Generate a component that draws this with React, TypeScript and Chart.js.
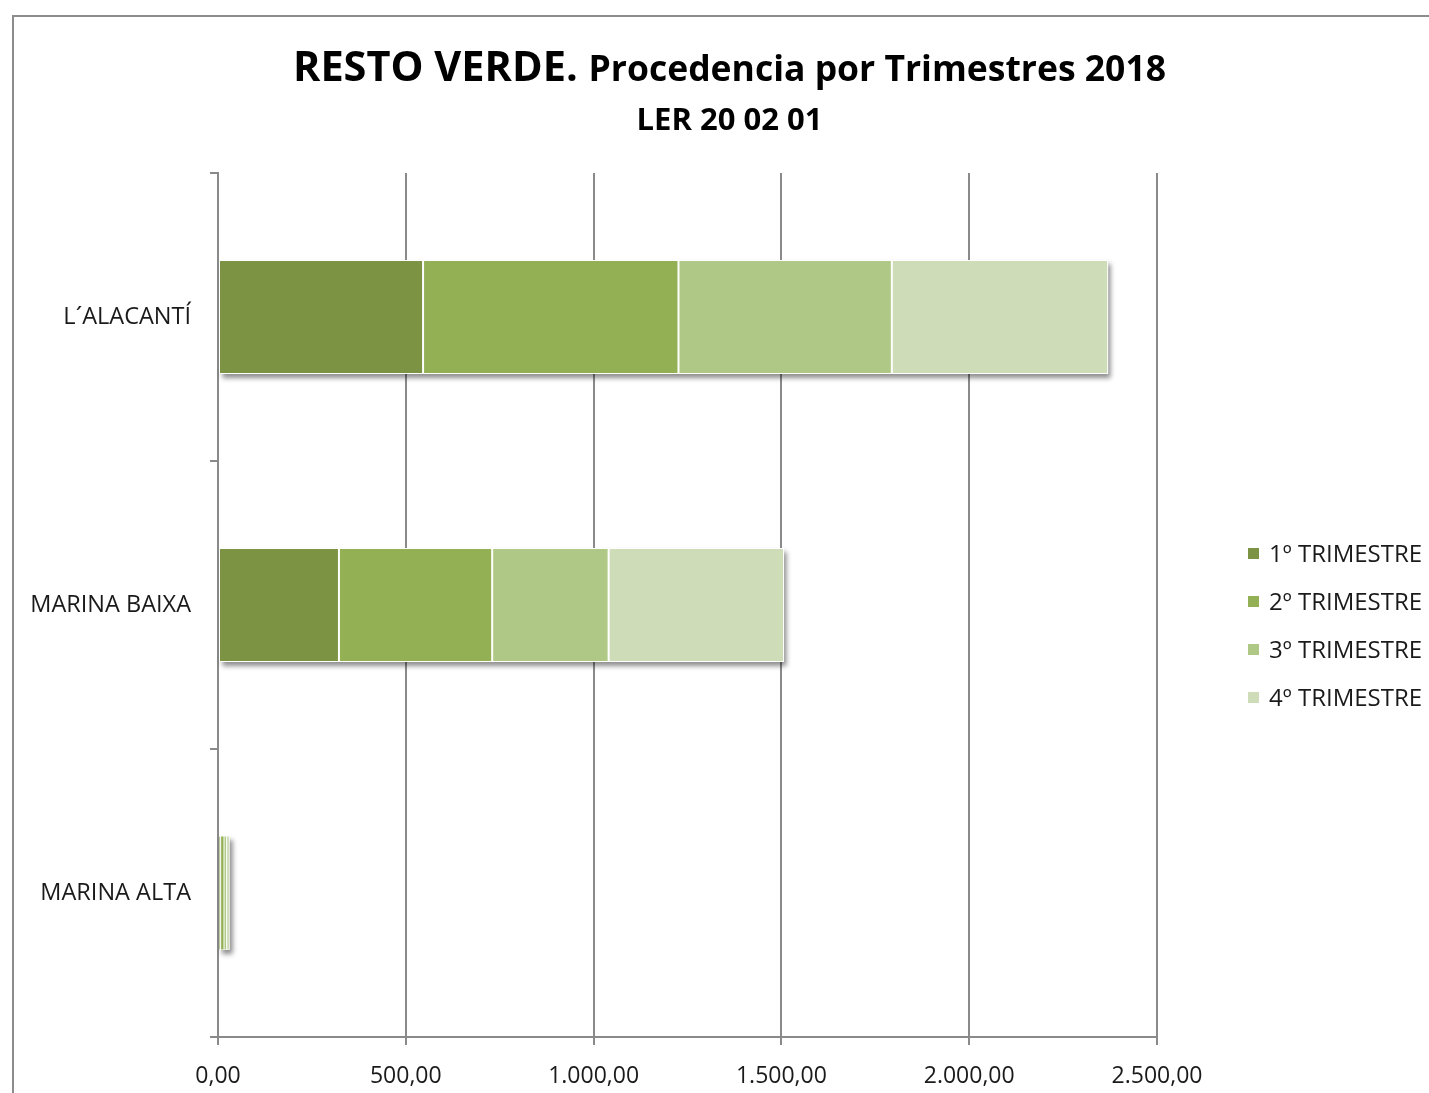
import React, { useEffect, useRef } from "react";
import { Chart, registerables } from "chart.js";

Chart.register(...registerables);

const categories = ["L´ALACANTÍ", "MARINA BAIXA", "MARINA ALTA"];
const seriesNames = ["1º TRIMESTRE", "2º TRIMESTRE", "3º TRIMESTRE", "4º TRIMESTRE"];
const trimestre1 = [546, 322, 7];
const trimestre2 = [680, 408, 9];
const trimestre3 = [568, 310, 7];
const trimestre4 = [576, 467, 8];
const seriesColors = ["#7B9343", "#93B055", "#AFC886", "#CEDCB8"];
const xMin = 0;
const xMax = 2500;
const xStep = 500;

const FONT = "'Open Sans', 'Noto Sans', sans-serif";

function formatEs(v: number): string {
  const fixed = Math.abs(v).toFixed(2);
  const [intPart, dec] = fixed.split(".");
  const withDots = intPart.replace(/\B(?=(\d{3})+(?!\d))/g, ".");
  return (v < 0 ? "-" : "") + withDots + "," + dec;
}

const shadowPlugin = {
  id: "barShadow",
  beforeDatasetsDraw(chart: any) {
    const ctx = chart.ctx;
    const n = chart.data.labels.length;
    for (let i = 0; i < n; i++) {
      let left = Infinity, right = -Infinity, top = Infinity, bottom = -Infinity;
      chart.data.datasets.forEach((_: any, di: number) => {
        const meta = chart.getDatasetMeta(di);
        if (meta.hidden) return;
        const el: any = meta.data[i];
        if (!el) return;
        const p = el.getProps(["x", "y", "base", "height"], true);
        left = Math.min(left, p.base, p.x);
        right = Math.max(right, p.base, p.x);
        top = Math.min(top, p.y - p.height / 2);
        bottom = Math.max(bottom, p.y + p.height / 2);
      });
      if (!isFinite(left)) continue;
      ctx.save();
      ctx.shadowColor = "rgba(0,0,0,0.45)";
      ctx.shadowBlur = 5;
      ctx.shadowOffsetX = 3;
      ctx.shadowOffsetY = 4;
      ctx.fillStyle = "#ffffff";
      ctx.fillRect(left, top, right - left, bottom - top);
      ctx.restore();
    }
  },
};

export default function App() {
  const canvasRef = useRef<HTMLCanvasElement | null>(null);

  useEffect(() => {
    if (!canvasRef.current) return;
    const seriesValues = [trimestre1, trimestre2, trimestre3, trimestre4];
    const chart = new Chart(canvasRef.current, {
      type: "bar",
      data: {
        labels: categories,
        datasets: seriesValues.map((vals, i) => ({
          label: seriesNames[i],
          data: vals,
          backgroundColor: seriesColors[i],
          borderColor: "#ffffff",
          borderWidth: (c: any) => (c.raw !== undefined && Number(c.raw) < 50 ? 0.5 : 1),
          borderSkipped: false,
          barPercentage: 0.395,
          categoryPercentage: 1,
        })),
      },
      options: {
        indexAxis: "y",
        responsive: false,
        animation: false,
        devicePixelRatio: 1,
        layout: { padding: { left: 0, top: 173, right: 272, bottom: 0 } },
        plugins: {
          legend: { display: false },
          title: { display: false },
          tooltip: { enabled: false },
        },
        scales: {
          x: {
            stacked: true,
            min: xMin,
            max: xMax,
            afterFit: (scale: any) => {
              scale.height = 1093 - 1037;
            },
            ticks: {
              stepSize: xStep,
              color: "#1a1a1a",
              font: { family: FONT, size: 23 },
              padding: 18,
              maxRotation: 0,
              callback: (v: any) => formatEs(Number(v)),
            },
            grid: {
              color: "#8a8a8a",
              lineWidth: 2,
              tickLength: 8,
              drawOnChartArea: true,
            },
            border: { display: true, color: "#8a8a8a", width: 2 },
          },
          y: {
            stacked: true,
            afterFit: (scale: any) => {
              scale.width = 218;
            },
            ticks: {
              color: "#1a1a1a",
              font: { family: FONT, size: 23.5 },
              padding: 19,
            },
            grid: {
              offset: true,
              drawOnChartArea: false,
              color: "#8a8a8a",
              lineWidth: 2,
              tickLength: 8,
            },
            border: { display: true, color: "#8a8a8a", width: 2 },
          },
        },
      },
      plugins: [shadowPlugin],
    });
    return () => chart.destroy();
  }, []);

  return (
    <div
      style={{
        position: "fixed",
        left: 0,
        top: 0,
        width: 1429,
        height: 1093,
        overflow: "hidden",
        background: "#ffffff",
        fontFamily: FONT,
      }}
    >
      <div
        style={{
          position: "absolute",
          left: 12,
          top: 15,
          width: 1500,
          height: 1200,
          border: "2px solid #8c8c8c",
          boxSizing: "border-box",
        }}
      />
      <canvas
        ref={canvasRef}
        width={1429}
        height={1093}
        style={{ position: "absolute", left: 0, top: 0, width: 1429, height: 1093 }}
      />
      <div
        style={{
          position: "absolute",
          left: 0,
          top: 40,
          width: 1459,
          textAlign: "center",
          lineHeight: "50px",
          fontSize: 41.5,
          fontWeight: 700,
          color: "#000000",
          whiteSpace: "nowrap",
        }}
      >
        RESTO VERDE. <span style={{ fontSize: 35.5 }}>Procedencia por Trimestres 2018</span>
      </div>
      <div
        style={{
          position: "absolute",
          left: 0,
          top: 98,
          width: 1459,
          textAlign: "center",
          lineHeight: "40px",
          fontSize: 31,
          fontWeight: 700,
          color: "#000000",
          whiteSpace: "nowrap",
        }}
      >
        LER 20 02 01
      </div>
      <div style={{ position: "absolute", left: 1248, top: 529 }}>
        {seriesNames.map((name, i) => (
          <div
            key={name}
            style={{ display: "flex", alignItems: "center", height: 48 }}
          >
            <span
              style={{
                display: "inline-block",
                width: 11,
                height: 11,
                background: seriesColors[i],
                marginRight: 10,
              }}
            />
            <span
              style={{
                fontSize: 24,
                lineHeight: "48px",
                color: "#1a1a1a",
                whiteSpace: "nowrap",
              }}
            >
              {name}
            </span>
          </div>
        ))}
      </div>
    </div>
  );
}
